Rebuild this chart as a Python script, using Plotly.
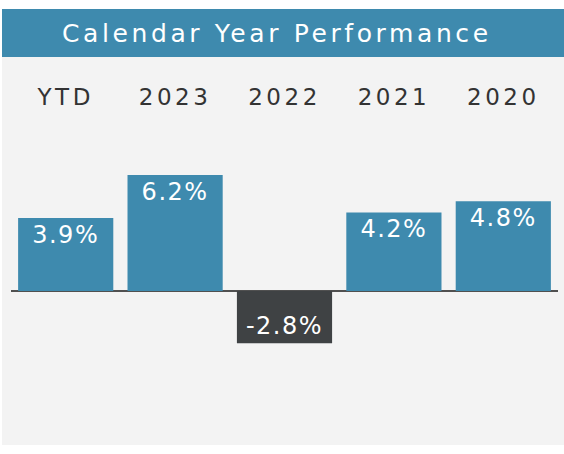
import plotly.graph_objects as go

categories = ["YTD", "2023", "2022", "2021", "2020"]
returns = [3.9, 6.2, -2.8, 4.2, 4.8]
labels = ["3.9%", "6.2%", "-2.8%", "4.2%", "4.8%"]
title_text = "Calendar Year Performance"

BLUE = "#3e8aae"
DARK = "#3f4244"
W, H = 564, 454

colors = [BLUE if v >= 0 else DARK for v in returns]

fig = go.Figure(go.Bar(
    x=categories, y=returns, text=labels,
    marker=dict(color=colors, line=dict(width=0)),
    textposition="inside", insidetextanchor="end", textangle=0,
    textfont=dict(family="DejaVu Sans", size=24, color="white"),
    cliponaxis=False, hoverinfo="skip",
))

def py(p):  # pixel from top -> paper fraction
    return (H - p) / H

def px(p):
    return p / W

fig.update_layout(
    width=W, height=H,
    margin=dict(l=0, r=0, t=0, b=0),
    paper_bgcolor="white", plot_bgcolor="rgba(0,0,0,0)",
    showlegend=False, bargap=0.13,
    uniformtext=dict(minsize=24, mode="show"),
    xaxis=dict(domain=[px(11), px(558)], side="top", showgrid=False, showline=False,
               ticks="outside", ticklen=26, tickcolor="rgba(0,0,0,0)",
               tickfont=dict(family="DejaVu Sans", size=23, color="#333333"), fixedrange=True),
    yaxis=dict(domain=[py(365.8), py(141.4)], range=[-4, 8], showgrid=False,
               showticklabels=False, zeroline=True, zerolinecolor="#505050",
               zerolinewidth=2, fixedrange=True),
    shapes=[
        dict(type="rect", xref="paper", yref="paper", x0=px(2), x1=1, y0=py(445), y1=py(57),
             fillcolor="#f3f3f3", line=dict(width=0), layer="below"),
        dict(type="rect", xref="paper", yref="paper", x0=px(2), x1=1, y0=py(57), y1=py(9),
             fillcolor=BLUE, line=dict(width=0), layer="below"),
    ],
    annotations=[dict(text=title_text, xref="paper", yref="paper", x=px(277), y=py(33),
                      xanchor="center", yanchor="middle", showarrow=False,
                      font=dict(family="DejaVu Sans", size=25, color="white"))],
)

post = """
document.querySelectorAll('.xtick text').forEach(function(e){ e.style.letterSpacing='3.5px'; });
document.querySelectorAll('.annotation-text').forEach(function(e){ e.style.letterSpacing='3.6px'; });
document.querySelectorAll('text.bartext').forEach(function(e){ e.style.letterSpacing='1.5px'; });
"""
fig.write_html("out.html", post_script=post, config={"displayModeBar": False})
